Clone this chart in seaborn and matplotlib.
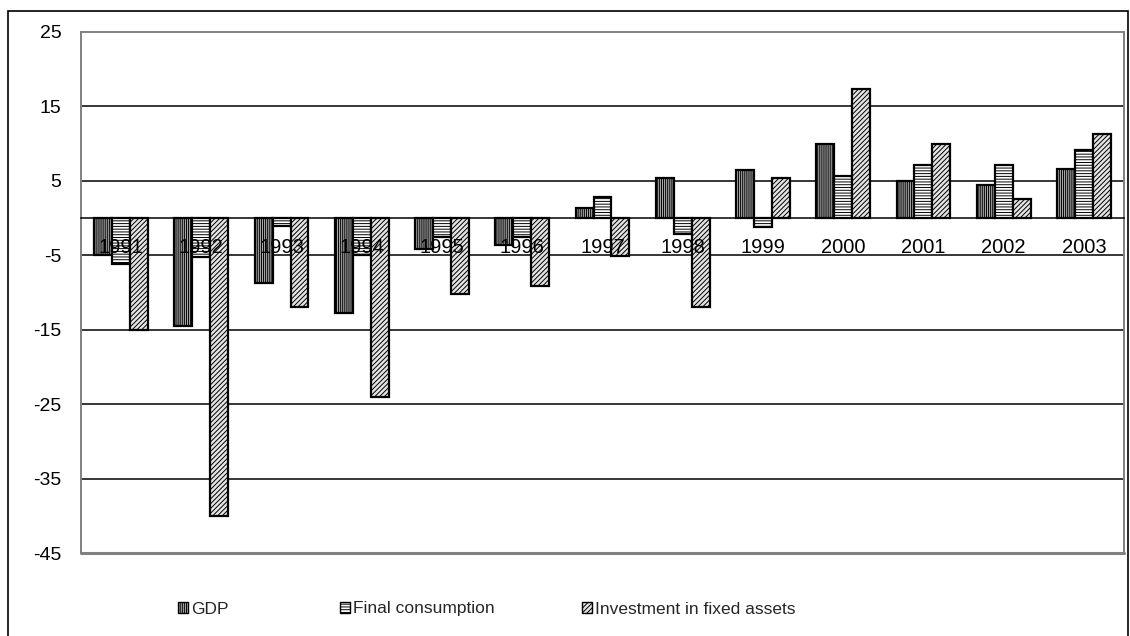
import matplotlib
matplotlib.use("Agg")
import matplotlib.pyplot as plt
import matplotlib.patches as mpatches
import numpy as np
import pandas as pd
import seaborn as sns

# Annual growth rates, %
years = ["1991", "1992", "1993", "1994", "1995", "1996", "1997",
         "1998", "1999", "2000", "2001", "2002", "2003"]
gdp = [-5.0, -14.5, -8.7, -12.8, -4.2, -3.6, 1.4, 5.4, 6.5, 10.0, 5.0, 4.4, 6.6]
final_consumption = [-6.2, -5.2, -1.0, -5.0, -2.6, -2.6, 2.8, -2.1, -1.2, 5.7, 7.1, 7.1, 9.2]
investment = [-15.0, -40.0, -12.0, -24.0, -10.2, -9.1, -5.1, -12.0, 5.4, 17.4, 10.0, 2.5, 11.3]
series_names = ["GDP", "Final consumption", "Investment in fixed assets"]
y_ticks = [-45, -35, -25, -15, -5, 5, 15, 25]

df = pd.DataFrame({
    "year": years * 3,
    "value": gdp + final_consumption + investment,
    "series": np.repeat(series_names, len(years)),
})

sns.set_theme(style="white")
plt.rcParams["font.family"] = ["Liberation Sans", "DejaVu Sans"]
plt.rcParams["hatch.linewidth"] = 0.7
plt.rcParams["hatch.color"] = "black"

faces = {"GDP": "#a8a8a8", "Final consumption": "#ffffff",
         "Investment in fixed assets": "#e4e4e4"}
hatches = {"GDP": "||||||||", "Final consumption": "------",
           "Investment in fixed assets": "///////"}

fig = plt.figure(figsize=(11.3, 6.36), dpi=100)
ax = fig.add_axes([81 / 1130, 1 - 553 / 636, (1124 - 81) / 1130, (553 - 32) / 636])

sns.barplot(data=df, x="year", y="value", hue="series", order=years,
            hue_order=series_names, palette=faces, width=0.67,
            edgecolor="black", linewidth=1.6, legend=False, ax=ax, zorder=2)

for cont, name in zip(ax.containers, series_names):
    for bar in cont:
        bar.set_hatch(hatches[name])
        bar.set_edgecolor("black")

# horizontal gridlines behind the bars
for yv in y_ticks[1:-1]:
    ax.axhline(yv, color="black", lw=1.1, zorder=0.5)

ax.set_ylim(-45, 25)
ax.set_xlim(-0.5, len(years) - 0.5)
ax.set_yticks(y_ticks)
ax.set_yticklabels([str(v) for v in y_ticks])
ax.set_xlabel("")
ax.set_ylabel("")

# category axis runs along zero
ax.spines["bottom"].set_position(("data", 0))
ax.spines["bottom"].set_color("black")
ax.spines["bottom"].set_linewidth(1.1)
for side in ["left", "top", "right"]:
    ax.spines[side].set_color("#808080")
    ax.spines[side].set_linewidth(1.4)
ax.axhline(-45, color="#808080", lw=2.2, clip_on=False, zorder=3)

ax.set_xticks(np.arange(len(years)))
ax.set_xticklabels(years)
ax.set_xticks(np.arange(len(years) + 1) - 0.5, minor=True)
ax.tick_params(axis="x", which="major", length=0, pad=14, labelsize=14.5,
               colors="black")
ax.tick_params(axis="x", which="minor", length=5, width=1.2,
               color="#808080", direction="out")
ax.tick_params(axis="y", which="major", length=5, width=1.2,
               color="#808080", direction="out", pad=9, labelsize=14,
               labelcolor="black")
ax.set_axisbelow(False)

# legend entries
leg_x = [178, 340, 582]
for name, lx in zip(series_names, leg_x):
    h = mpatches.Patch(facecolor=faces[name], hatch=hatches[name],
                       edgecolor="black", linewidth=1.0, label=name)
    fig.legend(handles=[h], labels=[name], loc="center left",
               bbox_to_anchor=(lx / 1130, 1 - 609 / 636), frameon=False,
               fontsize=12.5, handlelength=0.55, handleheight=0.55,
               handletextpad=0.2, borderpad=0, borderaxespad=0)

# outer chart border
fig.patches.append(mpatches.Rectangle((8 / 1130, -0.02), 1120 / 1130,
                                      (636 - 11) / 636 + 0.02,
                                      transform=fig.transFigure,
                                      fill=False, edgecolor="black", lw=1.2))

fig.savefig("out.png", dpi=100)
